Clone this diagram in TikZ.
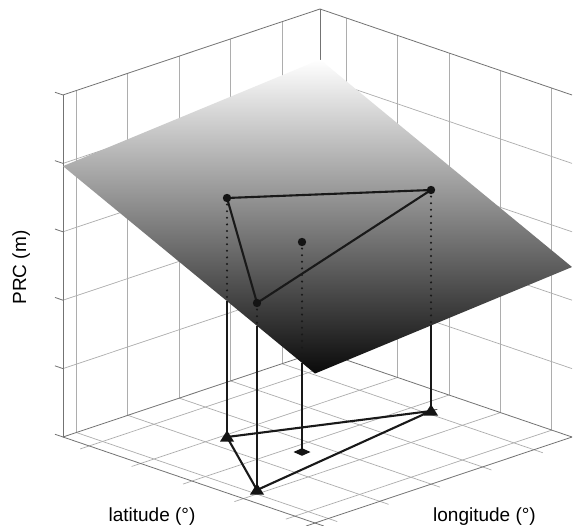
\documentclass[tikz,border=0pt]{standalone}
\usepackage{fontspec}
\setmainfont{Liberation Sans}
\begin{document}
\begin{tikzpicture}[x=1pt,y=-1pt,
  gridline/.style={draw=black!32, line width=0.7pt},
  boxedge/.style={draw=black!55, line width=0.8pt},
  dropline/.style={draw=black!90, line width=1.6pt},
  hiddenline/.style={draw=black!90, line width=2.3pt, line cap=round, dash pattern=on 0pt off 6.6pt},
  triline/.style={draw=black!90, line width=2.1pt},
  lbl/.style={font=\fontsize{19}{22}\selectfont, inner sep=0pt}]
\useasboundingbox (0,0) rectangle (575,526);
\fill[white] (0,0) rectangle (575,526);

% ---- box walls and floor (3D: a along latitude, b along longitude, c up)
\begin{scope}[shift={(320,351)}, x={(-257pt,-86pt)}, y={(252pt,-86pt)}, z={(0pt,342pt)}]
  % left wall
  \foreach \a in {0.148,0.348,0.548,0.748,0.948}
    \draw[gridline] (\a,0,0) -- (\a,0,1);
  \foreach \c in {0.2,0.4,0.6,0.8}
    \draw[gridline] (0,0,\c) -- (1,0,\c);
  % right wall
  \foreach \b in {0.104,0.308,0.512,0.716,0.92}
    \draw[gridline] (0,\b,0) -- (0,\b,1);
  \foreach \c in {0.2,0.4,0.6,0.8}
    \draw[gridline] (0,0,\c) -- (0,1,\c);
  % floor
  \foreach \a in {0.148,0.348,0.548,0.748,0.948}
    \draw[gridline] (\a,0,0) -- (\a,1.035,0);
  \foreach \b in {0.104,0.308,0.512,0.716,0.92}
    \draw[gridline] (0,\b,0) -- (1.035,\b,0);
  % edges
  \draw[boxedge] (1,0,1) -- (0,0,1) -- (0,1,1);
  \draw[boxedge] (0,0,0) -- (0,0,1);
  \draw[boxedge] (1,0,0) -- (1,0,1);
  \draw[boxedge] (1,0,0) -- (0,0,0) -- (0,1,0);
  \draw[boxedge] (1,0,0) -- (1,1.035,0);
  \draw[boxedge] (0,1,0) -- (1.035,1,0);
  \foreach \c in {0,0.2,0.4,0.6,0.8,1}
    \draw[boxedge] (1,0,\c) -- (1,-0.032,\c);
  % plane corners
  \coordinate (PT) at (0,0,0.852);
  \coordinate (PL) at (1,0,0.792);
  \coordinate (PB) at (1,1,0.437);
  \coordinate (PR) at (0,1,0.497);
\end{scope}

% ---- plane
\shade[top color=white, middle color=black!58, bottom color=black!96] (PT) -- (PR) -- (PB) -- (PL) -- cycle;

% ---- points
\coordinate (P1) at (227,198);
\coordinate (P2) at (431,190);
\coordinate (P3) at (257,303);
\coordinate (PC) at (302,242);
\coordinate (F1) at (227,437);
\coordinate (F2) at (431,411);
\coordinate (F3) at (257,490);
\coordinate (FC) at (302,452);
\coordinate (E1) at (intersection of P1--F1 and PL--PB);
\coordinate (E2) at (intersection of P2--F2 and PB--PR);
\coordinate (E3) at (intersection of P3--F3 and PL--PB);
\coordinate (EC) at (intersection of PC--FC and PL--PB);

% floor triangle
\draw[triline] (F1) -- (F2) -- (F3) -- cycle;
% drop lines
\draw[dropline] (E1) -- (F1);
\draw[dropline] (E2) -- (F2);
\draw[dropline] (E3) -- (F3);
\draw[dropline] (EC) -- (FC);
\draw[hiddenline] (P1) -- (E1);
\draw[hiddenline] (P2) -- (E2);
\draw[hiddenline] (P3) -- (E3);
\draw[hiddenline] (PC) -- (EC);
% floor markers
\foreach \p in {F1,F2,F3}
  \fill[black!92] ([shift={(-7,4.5)}]\p) -- ([shift={(7,4.5)}]\p) -- ([shift={(0,-6.5)}]\p) -- cycle;
\fill[black!92] ([shift={(-8.5,0)}]FC) -- ([shift={(0,-3.8)}]FC) -- ([shift={(8.5,0)}]FC) -- ([shift={(0,3.8)}]FC) -- cycle;

% plane triangle
\draw[triline] (P1) -- (P2) -- (P3) -- cycle;
\foreach \p in {P1,P2,P3,PC}
  \fill[black!92] (\p) circle[radius=4.2];

% ---- labels
\node[lbl, rotate=90, anchor=base] (zl) at (26,267.5) {PRC (m)};
\node[lbl, anchor=base] (xl) at (152,521) {latitude (°)};
\node[lbl, anchor=base] (yl) at (484.5,521) {longitude (°)};
\end{tikzpicture}
\end{document}
